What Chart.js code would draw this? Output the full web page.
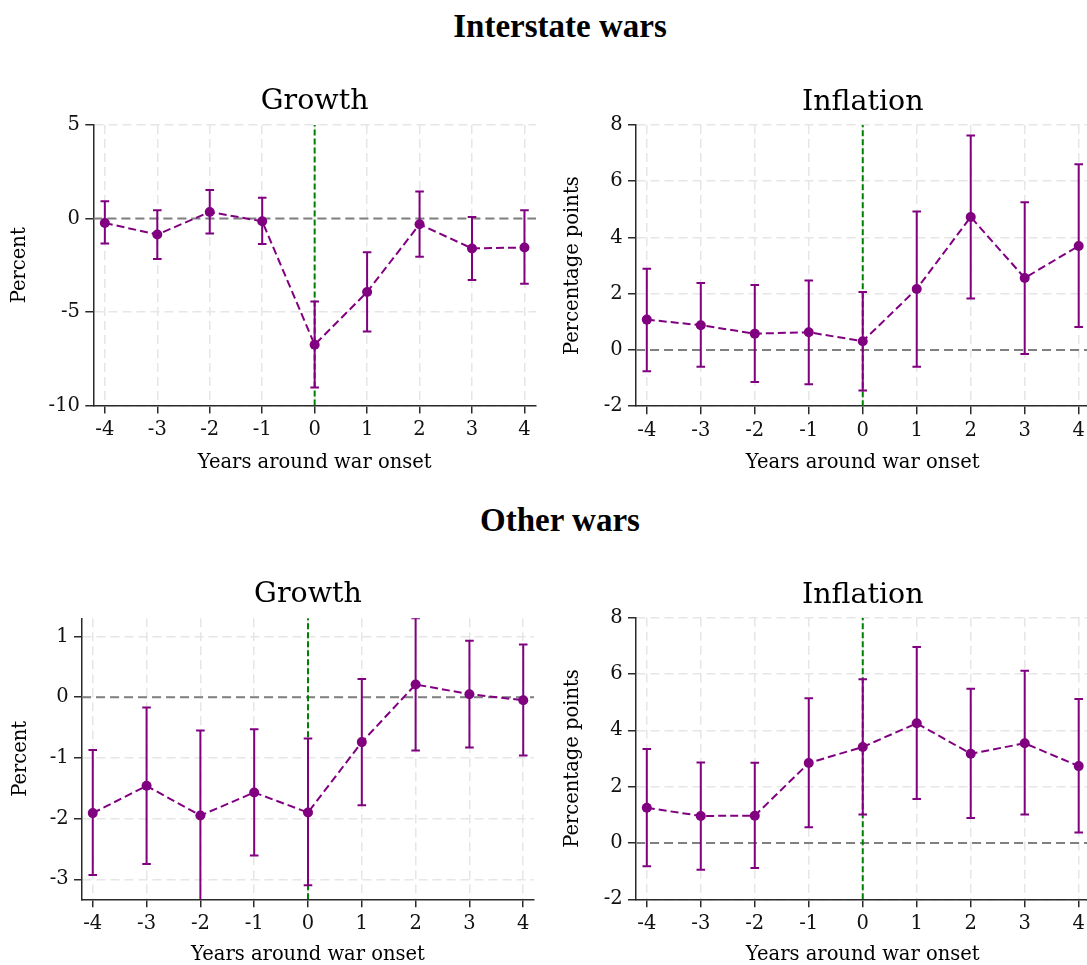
<!DOCTYPE html>
<html>
<head>
<meta charset="utf-8">
<script src="https://cdn.jsdelivr.net/npm/chart.js@4.4.1/dist/chart.umd.min.js"></script>
<style>
html,body{margin:0;padding:0;background:#fff;width:1087px;height:965px;overflow:hidden;position:relative}
.sec{position:absolute;left:260px;width:600px;text-align:center;font-family:"Liberation Serif",serif;font-weight:bold;font-size:33px;line-height:33px;color:#000}
canvas{position:absolute}
</style>
</head>
<body>
<div class="sec" style="top:10px">Interstate wars</div>
<div class="sec" style="top:504px">Other wars</div>
<canvas id="c1" width="545" height="400" style="left:0;top:80px"></canvas>
<canvas id="c2" width="542" height="400" style="left:545px;top:80px"></canvas>
<canvas id="c3" width="545" height="395" style="left:0;top:570px"></canvas>
<canvas id="c4" width="542" height="395" style="left:545px;top:570px"></canvas>
<script>
// ---------- data ----------
const years = [-4, -3, -2, -1, 0, 1, 2, 3, 4];

// Interstate wars - Growth (percent)
const interGrowth   = [-0.24, -0.86,  0.35, -0.15, -6.75, -3.93, -0.31, -1.60, -1.55];
const interGrowthLo = [-1.34, -2.17, -0.80, -1.37, -9.04, -6.04, -2.05, -3.29, -3.49];
const interGrowthHi = [ 0.92,  0.44,  1.52,  1.11, -4.44, -1.80,  1.45,  0.08,  0.44];

// Interstate wars - Inflation (percentage points)
const interInfl   = [ 1.08,  0.88,  0.58,  0.63,  0.31,  2.17,  4.73,  2.56,  3.70];
const interInflLo = [-0.76, -0.60, -1.14, -1.22, -1.44, -0.60,  1.83, -0.14,  0.82];
const interInflHi = [ 2.89,  2.38,  2.31,  2.47,  2.06,  4.92,  7.63,  5.25,  6.60];

// Other wars - Growth (percent)
const otherGrowth   = [-1.91, -1.46, -1.95, -1.57, -1.90, -0.74,  0.21,  0.05, -0.05];
const otherGrowthLo = [-2.93, -2.75, -3.40, -2.61, -3.10, -1.78, -0.88, -0.83, -0.96];
const otherGrowthHi = [-0.87, -0.17, -0.55, -0.53, -0.68,  0.30,  1.30,  0.93,  0.87];

// Other wars - Inflation (percentage points)
const otherInfl   = [ 1.25,  0.96,  0.97,  2.84,  3.41,  4.25,  3.17,  3.54,  2.73];
const otherInflLo = [-0.83, -0.95, -0.89,  0.56,  1.01,  1.56,  0.89,  1.01,  0.37];
const otherInflHi = [ 3.34,  2.86,  2.85,  5.14,  5.81,  6.96,  5.48,  6.12,  5.11];

// ticks / labels
const xTickValues = years;
const interGrowthTicks = [-10, -5, 0, 5];
const inflTicks = [-2, 0, 2, 4, 6, 8];
const otherGrowthTicks = [-3, -2, -1, 0, 1];
const xTitle = 'Years around war onset';
const growthTitle = 'Growth';
const inflTitle = 'Inflation';
const growthAxisTitle = 'Percent';
const inflAxisTitle = 'Percentage points';
const onsetYear = 0;
const zeroLevel = 0;

// ---------- style ----------
const PURPLE = '#800080';
const GREEN = '#008000';
const GREY = '#808080';
const AXIS = '#2a2a2a';
const GRID = '#e6e6e6';
Chart.defaults.font.family = '"DejaVu Serif", serif';
Chart.defaults.color = '#111';

function makePanel(id, p) {
  const cv = document.getElementById(id);
  cv.width = p.canvasW;
  const ciData = [];
  years.forEach((x, i) => {
    ciData.push({x: x, y: p.lo[i]});
    ciData.push({x: x, y: p.hi[i]});
    ciData.push({x: x, y: null});
  });
  new Chart(cv, {
    type: 'line',
    data: {
      datasets: [
        { // point estimates
          data: years.map((x, i) => ({x: x, y: p.est[i]})),
          borderColor: PURPLE, borderWidth: 2, borderDash: [8, 4],
          pointRadius: 5, pointBackgroundColor: PURPLE, pointBorderWidth: 0,
          tension: 0, order: 0
        },
        { // confidence intervals with caps
          data: ciData,
          borderColor: PURPLE, borderWidth: 2, spanGaps: false,
          pointStyle: 'line', pointRadius: 4.3, pointBorderWidth: 2,
          pointBorderColor: PURPLE, pointBackgroundColor: PURPLE,
          tension: 0, order: 1
        },
        { // war onset line
          data: [{x: onsetYear, y: p.yMin}, {x: onsetYear, y: p.yMax}],
          borderColor: GREEN, borderWidth: 2, borderDash: [6, 3],
          pointRadius: 0, order: 2
        },
        { // zero reference
          data: [{x: p.xMin, y: zeroLevel}, {x: p.xMax, y: zeroLevel}],
          borderColor: GREY, borderWidth: 2, borderDash: [9, 5],
          pointRadius: 0, order: 3
        }
      ]
    },
    options: {
      responsive: false,
      animation: false,
      events: [],
      layout: {padding: {left: 0, right: p.rightPad, top: 0, bottom: 0}},
      plugins: {
        legend: {display: false},
        tooltip: {enabled: false},
        title: {
          display: true, text: p.title, fullSize: false,
          font: {size: 28.5, weight: 'normal', lineHeight: 1.2}, color: '#000',
          padding: {top: p.titlePad[0], bottom: p.titlePad[1]}
        }
      },
      scales: {
        x: {
          type: 'linear', min: p.xMin, max: p.xMax,
          afterBuildTicks: s => { s.ticks = xTickValues.map(v => ({value: v})); },
          afterFit: s => { s.height = p.xAxisH; },
          ticks: {callback: v => String(v), font: {size: 19.5}, color: '#111', padding: 5, maxRotation: 0, autoSkip: false},
          grid: {color: GRID, lineWidth: 1.5, tickLength: 8, tickColor: AXIS, tickWidth: 1.5, tickBorderDash: [8, 0]},
          border: {color: AXIS, width: 1.5, dash: [9, 5]},
          title: {display: true, text: xTitle, color: '#000', font: {size: 19.5, lineHeight: 1},
                  padding: {top: p.xTitlePad, bottom: p.xTitlePad}}
        },
        y: {
          type: 'linear', min: p.yMin, max: p.yMax,
          afterBuildTicks: s => { s.ticks = p.yTicks.map(v => ({value: v})); },
          afterFit: s => { s.width = p.yAxisW; },
          ticks: {callback: v => String(v), font: {size: 19.5}, color: '#111', padding: 5.3},
          grid: {color: GRID, lineWidth: 1.5, tickLength: 8, tickColor: AXIS, tickWidth: 1.5, tickBorderDash: [8, 0]},
          border: {color: AXIS, width: 1.5, dash: [9, 5]},
          title: {display: true, text: p.yTitle, color: '#000', font: {size: 19.5, lineHeight: 1},
                  padding: {top: p.yTitlePad, bottom: 0}}
        }
      }
    }
  });
}

makePanel('c1', {
  est: interGrowth, lo: interGrowthLo, hi: interGrowthHi,
  yMin: -10, yMax: 5, yTicks: interGrowthTicks, xMin: -4.22, xMax: 4.22,
  title: growthTitle, yTitle: growthAxisTitle, canvasW: 545,
  rightPad: 9, yAxisW: 93.3, xAxisH: 74.5, titlePad: [4.4, 6.4], xTitlePad: 7.0, yTitlePad: 10.0
});
makePanel('c2', {
  est: interInfl, lo: interInflLo, hi: interInflHi,
  yMin: -2, yMax: 8, yTicks: inflTicks, xMin: -4.2, xMax: 4.2,
  title: inflTitle, yTitle: inflAxisTitle, canvasW: 560,
  rightPad: 15.5, yAxisW: 91, xAxisH: 73.8, titlePad: [5.1, 5.7], xTitlePad: 7.0, yTitlePad: 17.8
});
makePanel('c3', {
  est: otherGrowth, lo: otherGrowthLo, hi: otherGrowthHi,
  yMin: -3.33, yMax: 1.30, yTicks: otherGrowthTicks, xMin: -4.2, xMax: 4.2,
  title: growthTitle, yTitle: growthAxisTitle, canvasW: 545,
  rightPad: 11, yAxisW: 82, xAxisH: 65.7, titlePad: [7.9, 6.2], xTitlePad: 0.3, yTitlePad: 10.7
});
makePanel('c4', {
  est: otherInfl, lo: otherInflLo, hi: otherInflHi,
  yMin: -2, yMax: 8, yTicks: inflTicks, xMin: -4.2, xMax: 4.2,
  title: inflTitle, yTitle: inflAxisTitle, canvasW: 560,
  rightPad: 15.5, yAxisW: 91, xAxisH: 65.7, titlePad: [8.4, 5.1], xTitlePad: 0.3, yTitlePad: 17.8
});
</script>
</body>
</html>
